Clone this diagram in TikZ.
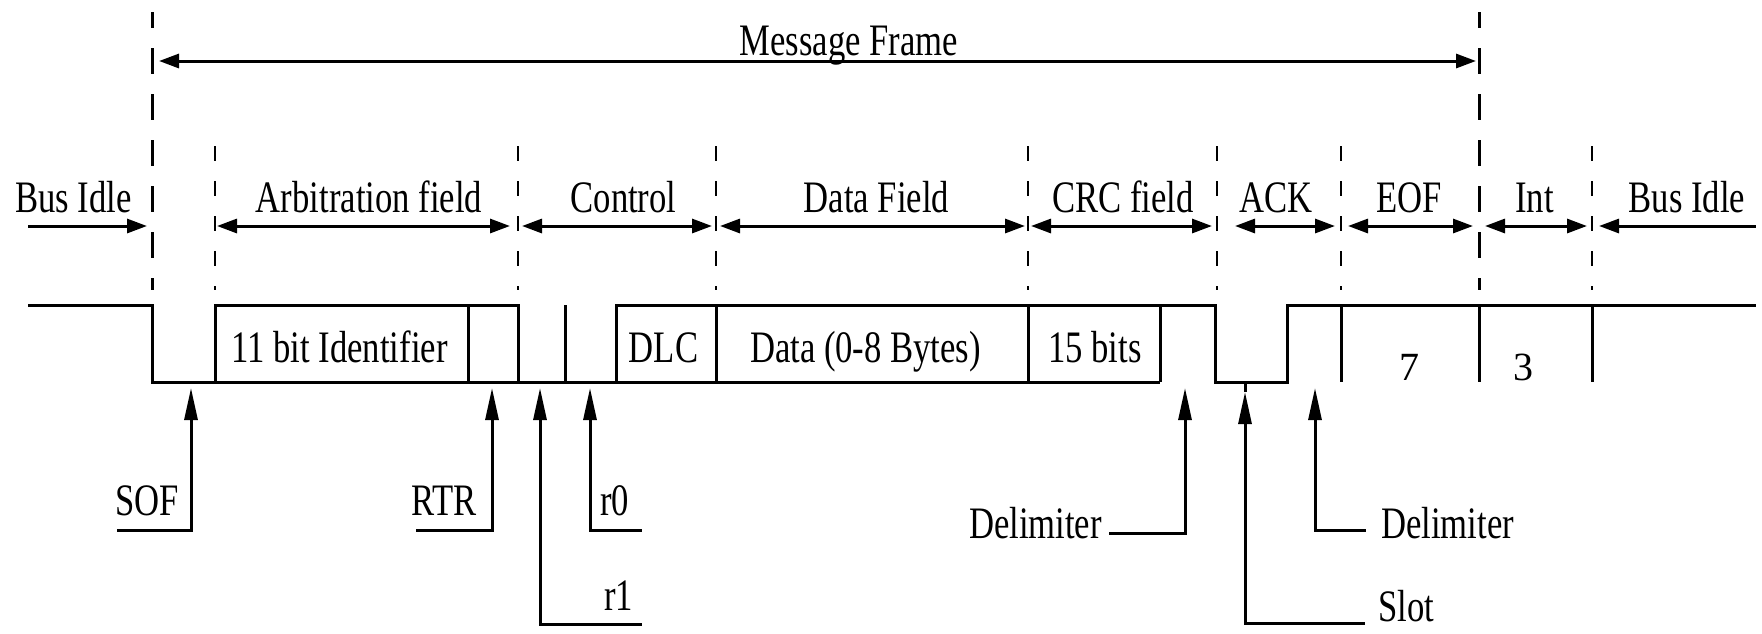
\documentclass[tikz,border=0pt]{standalone}
\usepackage{fontspec}
\setmainfont{Liberation Serif}
\newfontfamily\pixfont[FakeStretch=0.77]{Liberation Serif}
\usetikzlibrary{arrows.meta}
\tikzset{
  sig/.style={line width=3pt},
  mdash/.style={line width=3pt, dash pattern=on 26pt off 20pt, dash phase=10pt},
  sdash/.style={line width=2.5pt, dash pattern=on 15pt off 20pt},
  farrow/.style={line width=3pt, {Triangle[length=20pt,width=14pt]}-{Triangle[length=20pt,width=14pt]}},
  rarrow/.style={line width=3pt, -{Triangle[length=20pt,width=14pt]}},
  larrow/.style={line width=3pt, {Triangle[length=20pt,width=14pt]}-},
  parrow/.style={line width=3pt, {Triangle[length=32pt,width=13pt]}-},
  pline/.style={line width=3pt},
  lbl/.style={font=\pixfont\fontsize{45}{50}\selectfont, inner sep=0pt, anchor=base},
  num/.style={font=\fontsize{40}{44}\selectfont, inner sep=0pt, anchor=base},
}
\begin{document}
\begin{tikzpicture}[x=1pt,y=-1pt]
\useasboundingbox (0,0) rectangle (1762,633);

% ---- dashed boundaries ----
\coordinate (m1t) at (152,12);  \coordinate (m1b) at (152,290);
\coordinate (m2t) at (1479,12); \coordinate (m2b) at (1479,290);
\draw[mdash] (m1t) -- (m1b);
\draw[mdash] (m2t) -- (m2b);
\foreach \n/\x in {a/215,b/518,c/716,d/1028,e/1217,f/1341,g/1592}{
  \coordinate (s\n t) at (\x,146);
  \coordinate (s\n b) at (\x,290);
  \draw[sdash] (s\n t) -- (s\n b);
}

% ---- message frame ----
\coordinate (mfl) at (159,61); \coordinate (mfr) at (1476,61);
\draw[farrow] (mfl) -- (mfr);
\node[lbl] (mf) at (849,55) {Message Frame};

% ---- field arrows ----
\coordinate (bi1a) at (28,226);   \coordinate (bi1b) at (147,226);
\coordinate (arba) at (217,226);  \coordinate (arbb) at (510,226);
\coordinate (cona) at (522,226);  \coordinate (conb) at (712,226);
\coordinate (data) at (720,226);  \coordinate (datb) at (1025,226);
\coordinate (crca) at (1031,226); \coordinate (crcb) at (1212,226);
\coordinate (acka) at (1235,226); \coordinate (ackb) at (1335,226);
\coordinate (eofa) at (1348,226); \coordinate (eofb) at (1473,226);
\coordinate (inta) at (1485,226); \coordinate (intb) at (1587,226);
\coordinate (bi2a) at (1599,226); \coordinate (bi2b) at (1756,226);
\draw[rarrow] (bi1a) -- (bi1b);
\draw[farrow] (arba) -- (arbb);
\draw[farrow] (cona) -- (conb);
\draw[farrow] (data) -- (datb);
\draw[farrow] (crca) -- (crcb);
\draw[farrow] (acka) -- (ackb);
\draw[farrow] (eofa) -- (eofb);
\draw[farrow] (inta) -- (intb);
\draw[larrow] (bi2a) -- (bi2b);

\node[lbl] (lbi1) at (73.5,212) {Bus Idle};
\node[lbl] (larb) at (369,212) {Arbitration field};
\node[lbl] (lcon) at (623.5,212) {Control};
\node[lbl] (ldat) at (876.5,212) {Data Field};
\node[lbl] (lcrc) at (1123,212) {CRC field};
\node[lbl] (lack) at (1276,212) {ACK};
\node[lbl] (leof) at (1409,212) {EOF};
\node[lbl] (lint) at (1534.5,212) {Int};
\node[lbl] (lbi2) at (1687,212) {Bus Idle};

% ---- signal ----
\draw[sig] (28,305) -- (152,305) -- (152,382) -- (1160,382);
\draw[sig] (215,382) -- (215,305) -- (518,305) -- (518,382);
\draw[sig] (468,305) -- (468,382);
\draw[sig] (565,305) -- (565,382);
\draw[sig] (616,382) -- (616,305) -- (1215,305) -- (1215,382) -- (1287,382) -- (1287,305) -- (1756,305);
\foreach \x in {716,1028,1160,1341,1479,1592}{
  \draw[sig] (\x,305) -- (\x,382);
}
\node[lbl] (lid)  at (339.5,362) {11 bit Identifier};
\node[lbl] (ldlc) at (663.5,362) {DLC};
\node[lbl] (ldat2) at (865.5,362) {Data (0-8 Bytes)};
\node[lbl] (l15)  at (1095,362) {15 bits};
\node[num] (n7) at (1409,380) {7};
\node[num] (n3) at (1523,380) {3};

% ---- pointer arrows ----
\coordinate (sofT) at (191,388); \coordinate (sofC) at (191,530); \coordinate (sofE) at (117,530);
\coordinate (rtrT) at (492,388); \coordinate (rtrC) at (492,530); \coordinate (rtrE) at (416,530);
\coordinate (r1T) at (540,388);  \coordinate (r1C) at (540,624);  \coordinate (r1E) at (642,624);
\coordinate (r0T) at (590,388);  \coordinate (r0C) at (590,530);  \coordinate (r0E) at (642,530);
\coordinate (cdT) at (1185,388); \coordinate (cdC) at (1185,533); \coordinate (cdE) at (1109,533);
\coordinate (slS) at (1245,382); \coordinate (slT) at (1245,392);
\coordinate (slC) at (1245,623); \coordinate (slE) at (1365,623);
\coordinate (adT) at (1315,388); \coordinate (adC) at (1315,530); \coordinate (adE) at (1366,530);
\draw[parrow] (sofT) -- (sofC) -- (sofE);
\draw[parrow] (rtrT) -- (rtrC) -- (rtrE);
\draw[parrow] (r1T) -- (r1C) -- (r1E);
\draw[parrow] (r0T) -- (r0C) -- (r0E);
\draw[parrow] (cdT) -- (cdC) -- (cdE);
\draw[pline] (slS) -- (slT);
\draw[parrow] (slT) -- (slC) -- (slE);
\draw[parrow] (adT) -- (adC) -- (adE);

\node[lbl, anchor=base east] (lsof) at (179,515) {SOF};
\node[lbl, anchor=base east] (lrtr) at (477,515) {RTR};
\node[lbl, anchor=base west] (lr0) at (600,515) {r0};
\node[lbl, anchor=base west] (lr1) at (604,610) {r1};
\node[lbl, anchor=base east] (ld1) at (1102,538) {Delimiter};
\node[lbl, anchor=base west] (ld2) at (1381,538) {Delimiter};
\node[lbl, anchor=base west] (lslot) at (1378,621) {Slot};
\end{tikzpicture}
\end{document}
